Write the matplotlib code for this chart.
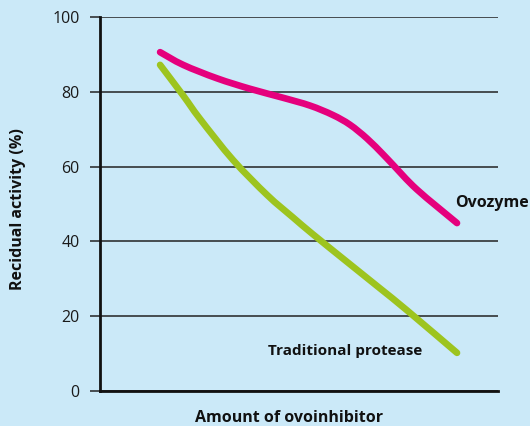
import matplotlib
matplotlib.use("Agg")
import matplotlib.pyplot as plt
from matplotlib.path import Path
from matplotlib.patches import PathPatch

# readings (x on a 0-10 scale of "amount")
ovozyme_x = [1.51, 2.09, 2.94, 3.77, 4.60, 5.28, 5.85, 6.28, 6.71, 7.11, 7.36, 7.96, 8.97]
ovozyme_y = [90.6, 87.2, 83.6, 80.8, 78.4, 76.3, 73.8, 71.2, 67.5, 63.3, 60.5, 53.9, 44.9]

protease_x = [1.51, 2.09, 2.51, 3.34, 4.20, 4.85, 5.35, 6.21, 7.04, 7.71, 8.97]
protease_y = [87.2, 79.0, 72.8, 61.8, 52.4, 46.4, 41.9, 34.5, 27.4, 21.6, 10.2]

yticks = [0, 20, 40, 60, 80, 100]

BG = "#CBE9F8"
PINK = "#E5007D"
GREEN = "#9DC41F"
INK = "#111111"

plt.rcParams['font.family'] = ['Open Sans', 'DejaVu Sans']


def smooth_curve(ax, xs, ys, color):
    """Draw a smooth curve through the readings (Catmull-Rom as cubic Beziers)."""
    pts = list(zip(xs, ys))
    verts = [pts[0]]
    codes = [Path.MOVETO]
    for i in range(len(pts) - 1):
        p0 = pts[i - 1] if i > 0 else pts[i]
        p1, p2 = pts[i], pts[i + 1]
        p3 = pts[i + 2] if i + 2 < len(pts) else pts[i + 1]
        c1 = (p1[0] + (p2[0] - p0[0]) / 6, p1[1] + (p2[1] - p0[1]) / 6)
        c2 = (p2[0] - (p3[0] - p1[0]) / 6, p2[1] - (p3[1] - p1[1]) / 6)
        verts += [c1, c2, p2]
        codes += [Path.CURVE4] * 3
    patch = PathPatch(Path(verts, codes), fill=False, edgecolor=color, lw=4.8,
                      capstyle='round', joinstyle='round', zorder=4)
    ax.add_patch(patch)


fig = plt.figure(figsize=(5.30, 4.26), dpi=100)
fig.patch.set_facecolor(BG)
ax = fig.add_axes([100 / 530, 1 - 391 / 426, 398 / 530, 374 / 426])
ax.set_facecolor(BG)

ax.set_xlim(0, 10)
ax.set_ylim(0, 100)
ax.set_yticks(yticks)
ax.set_xticks([])
ax.grid(axis='y', color='#222222', linewidth=1.1)
ax.set_axisbelow(True)
ax.tick_params(axis='y', length=7.2, width=1.1, color='#222222', pad=7.5,
               labelsize=11.5, labelcolor='#1a1a1a')

for s in ['top', 'right']:
    ax.spines[s].set_visible(False)
for s in ['left', 'bottom']:
    ax.spines[s].set_linewidth(2)
    ax.spines[s].set_color(INK)
    ax.spines[s].set_zorder(3)

smooth_curve(ax, ovozyme_x, ovozyme_y, PINK)
smooth_curve(ax, protease_x, protease_y, GREEN)

ax.text(8.93, 50.2, "Ovozyme", fontsize=11.5, fontweight='bold', color=INK,
        ha='left', va='center', zorder=5)
ax.text(4.22, 10.7, "Traditional protease", fontsize=11, fontweight='bold',
        color=INK, ha='left', va='center', zorder=5)

fig.text(289 / 530, 1 - 418 / 426, "Amount of ovoinhibitor", fontsize=11.5,
         fontweight='bold', color=INK, ha='center', va='center')
fig.text(18 / 530, 1 - 209 / 426, "Recidual activity (%)", fontsize=11.5,
         fontweight='bold', color=INK, ha='center', va='center', rotation=90)

fig.savefig("out.png", dpi=100, facecolor=BG)
